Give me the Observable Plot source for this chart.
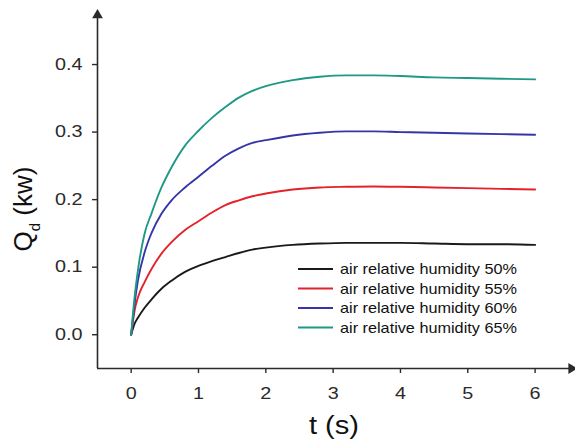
<!DOCTYPE html>
<html><head><meta charset="utf-8">
<script src="https://cdn.jsdelivr.net/npm/d3@7"></script>
<script src="https://cdn.jsdelivr.net/npm/@observablehq/plot@0.6"></script>
<style>body{margin:0;background:#fff;}</style>
</head><body><div id="chart"></div>
<script>
const times = [0, 0.05, 0.1, 0.2, 0.3, 0.45, 0.6, 0.8, 1.0, 1.2, 1.4, 1.6, 1.8, 2.0, 2.4, 2.8, 3.2, 3.6, 4.0, 4.5, 5.0, 5.5, 6.0];
const q50 = [0, 0.016, 0.025, 0.040, 0.052, 0.068, 0.080, 0.093, 0.102, 0.109, 0.115, 0.121, 0.126, 0.129, 0.133, 0.135, 0.136, 0.136, 0.136, 0.135, 0.134, 0.134, 0.133];
const q55 = [0, 0.035, 0.055, 0.078, 0.097, 0.120, 0.137, 0.155, 0.168, 0.181, 0.192, 0.199, 0.205, 0.209, 0.215, 0.218, 0.219, 0.2195, 0.219, 0.218, 0.217, 0.216, 0.215];
const q60 = [0, 0.045, 0.080, 0.122, 0.150, 0.179, 0.199, 0.218, 0.234, 0.250, 0.265, 0.276, 0.284, 0.288, 0.295, 0.299, 0.301, 0.301, 0.300, 0.299, 0.298, 0.297, 0.296];
const q65 = [0, 0.055, 0.095, 0.150, 0.179, 0.218, 0.248, 0.280, 0.302, 0.321, 0.337, 0.351, 0.361, 0.368, 0.377, 0.382, 0.384, 0.384, 0.383, 0.381, 0.380, 0.379, 0.378];
const seriesNames = ["air relative humidity 50%", "air relative humidity 55%", "air relative humidity 60%", "air relative humidity 65%"];
const seriesColors = ["#1a1a1a", "#e3232b", "#3535a8", "#1f9985"];
const xTicks = [0, 1, 2, 3, 4, 5, 6];
const yTicks = [0, 0.1, 0.2, 0.3, 0.4];
const xDomain = [-0.5, 6.6];
const yDomain = [-0.05, 0.48];

const allSeries = [q50, q55, q60, q65];
const rows = [];
allSeries.forEach((vals, i) => vals.forEach((q, j) => rows.push({series: seriesNames[i], t: times[j], q})));

const axisColor = "#2a2a2a";
const font = "'Liberation Sans', Arial, sans-serif";

const svg = Plot.plot({
  width: 575, height: 440,
  marginLeft: 97, marginRight: 0, marginTop: 10, marginBottom: 72,
  x: {domain: xDomain},
  y: {domain: yDomain},
  color: {domain: seriesNames, range: seriesColors},
  style: {fontFamily: font, background: "#fff", color: axisColor},
  marks: [
    Plot.ruleX([xDomain[0]], {y1: yDomain[0], y2: yDomain[1] - 0.006, stroke: axisColor, strokeWidth: 1.6}),
    Plot.ruleY([yDomain[0]], {x1: xDomain[0], x2: xDomain[1] - 0.06, stroke: axisColor, strokeWidth: 1.6}),
    Plot.dot([[xDomain[0], yDomain[1] - 0.007]], {x: d => d[0], y: d => d[1], symbol: "triangle", r: 4, fill: axisColor, stroke: null}),
    Plot.dot([[xDomain[1] - 0.06, yDomain[0]]], {x: d => d[0], y: d => d[1], symbol: "triangle", r: 4, fill: axisColor, stroke: null, rotate: 90}),
    Plot.axisX({ticks: xTicks, tickSize: 5, tickPadding: 14, fontSize: 16.5, label: null, stroke: axisColor, strokeWidth: 1.4}),
    Plot.axisY({ticks: yTicks, tickSize: 5, tickPadding: 10, fontSize: 16.5, label: null, tickFormat: d3.format(".1f"), stroke: axisColor, strokeWidth: 1.4}),
    Plot.line(rows, {x: "t", y: "q", z: "series", stroke: "series", strokeWidth: 1.9, curve: "monotone-x"})
  ]
});

const s = d3.select(svg);
// axis titles
s.append("text").attr("x", 334).attr("y", 434).attr("text-anchor", "middle").attr("class", "title")
  .style("font-size", "26px").style("font-family", font).attr("fill", "#111").text("t (s)");
const yl = s.append("text").attr("transform", "translate(32,209) rotate(-90)").attr("text-anchor", "middle")
  .style("font-size", "26px").style("font-family", font).attr("fill", "#111");
yl.append("tspan").text("Q");
yl.append("tspan").attr("dy", 8).style("font-size", "15px").text("d");
yl.append("tspan").attr("dy", -8).text(" (kw)");

// legend
const lg = s.append("g").attr("transform", "translate(298,269)").attr("class", "legend");
seriesNames.forEach((name, i) => {
  const g = lg.append("g").attr("transform", `translate(0,${i * 19.5})`);
  g.append("line").attr("x1", 0).attr("x2", 35).attr("y1", 0).attr("y2", 0)
    .attr("stroke", seriesColors[i]).attr("stroke-width", 2);
  g.append("text").attr("x", 42).attr("y", 0).attr("dy", "0.35em").attr("text-anchor", "start")
    .style("font-size", "14.5px").style("font-family", font).attr("fill", "#111").text(name);
});

document.getElementById("chart").appendChild(svg);

// the reference's lettering is slightly wider than Arial metrics: stretch horizontally
svg.querySelectorAll("text").forEach(t => {
  if (t.closest("[transform*='rotate']")) return;
  const isTick = !t.closest(".legend") && !t.classList.contains("title");
  const w = t.getComputedTextLength();
  if (w > 0) {
    t.setAttribute("textLength", (w * (isTick ? 1.2 : 1.12)).toFixed(1));
    t.setAttribute("lengthAdjust", "spacingAndGlyphs");
  }
});
</script>
</body></html>
